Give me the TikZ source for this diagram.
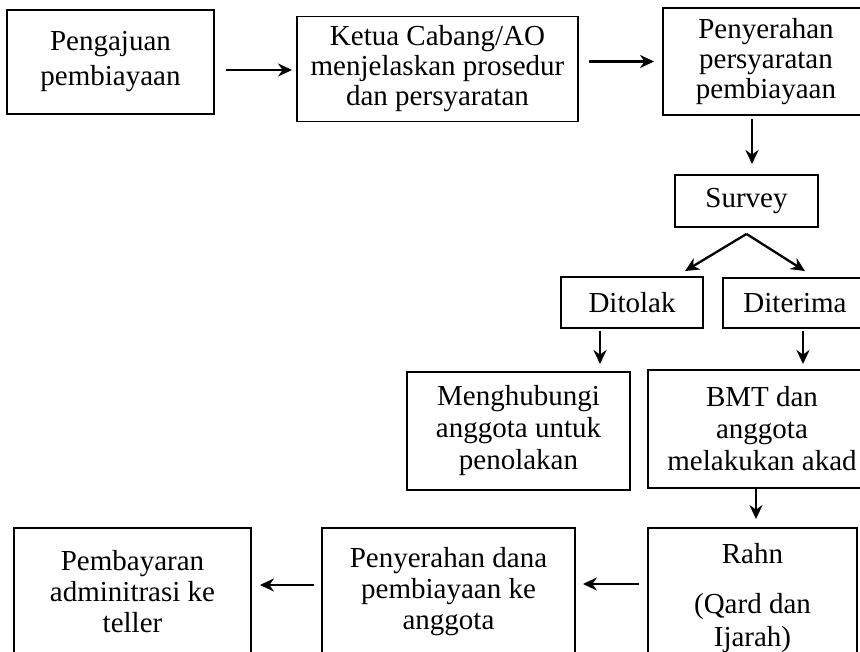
\documentclass[tikz,border=0pt]{standalone}
\usepackage{fontspec}
\setmainfont{Liberation Serif}
\usetikzlibrary{positioning,arrows.meta}

\begin{document}
\begin{tikzpicture}[x=1pt,y=-1pt,
  >={Stealth[length=14pt,width=13pt]},
  box/.style={draw,line width=1.9pt,align=center,inner sep=0pt,
    font=\fontsize{29}{32}\selectfont},
  arr/.style={->,line width=2.3pt}]
\useasboundingbox (0,0) rectangle (860,652);
\clip (0,0) rectangle (860,652);
% top row
\node[box,minimum width=207pt,minimum height=104pt,font=\fontsize{29}{35}\selectfont] (ajuan) at (110.5,62) {Pengajuan\\pembiayaan};
\node[box,minimum width=281pt,minimum height=105pt,font=\fontsize{29}{30}\selectfont] (ketua) at (437.5,69) {Ketua Cabang/AO\\menjelaskan prosedur\\dan persyaratan};
\node[box,minimum width=206pt,minimum height=107pt,font=\fontsize{29}{30}\selectfont] (syarat) at (766,61.5) {Penyerahan\\persyaratan\\pembiayaan};
% survey and decision
\node[box,minimum width=143pt,minimum height=52pt] (survey) at (746.5,201) {Survey};
\node[box,minimum width=142pt,minimum height=51pt] (tolak) at (632,302.5) {Ditolak};
\node[box,minimum width=144pt,minimum height=50pt] (terima) at (795,303) {Diterima};
\node[box,minimum width=223pt,minimum height=118pt] (hubungi) at (518.5,431) {Menghubungi\\anggota untuk\\penolakan};
\node[box,minimum width=228pt,minimum height=118pt] (akad) at (762,429) {BMT dan\\anggota\\melakukan akad};
% bottom row
\node[box,minimum width=209pt,minimum height=140pt,font=\fontsize{29}{33}\selectfont] (rahn) at (752.5,598) {Rahn\\[17pt](Qard dan\\Ijarah)};
\node[box,minimum width=253pt,minimum height=128pt,font=\fontsize{29}{31}\selectfont] (dana) at (448.5,592) {Penyerahan dana\\pembiayaan ke\\anggota};
\node[box,minimum width=237pt,minimum height=128pt,font=\fontsize{29}{31}\selectfont] (bayar) at (132.5,592) {Pembayaran\\adminitrasi ke\\teller};
% connectors
\draw[arr,shorten <=11pt,shorten >=4pt] ([yshift=-8pt]ajuan.east) -- ([yshift=-8pt]ajuan.east -| ketua.west);
\draw[arr,shorten <=10pt,shorten >=8pt] (ketua.east |- syarat) -- (syarat.west);
\draw[arr,shorten <=3pt,shorten >=10pt] ([xshift=5.5pt]survey.north |- syarat.south) -- ([xshift=5.5pt]survey.north);
\coordinate (fork) at ([yshift=-6pt]survey.south);
\draw[arr] (fork) -- ([xshift=53pt,yshift=5pt]tolak.north);
\draw[arr] (fork) -- ([xshift=10pt,yshift=6pt]terima.north);
\draw[arr,shorten <=2pt,shorten >=7pt] ([xshift=-32pt]tolak.south) -- ([xshift=-32pt]tolak.south |- hubungi.north);
\draw[arr,shorten <=2pt,shorten >=5pt] ([xshift=8pt]terima.south) -- ([xshift=8pt]terima.south |- akad.north);
\draw[arr,shorten >=8pt] ([xshift=-6pt]akad.south) -- ([xshift=-6pt]akad.south |- rahn.north);
\draw[arr,shorten <=8pt,shorten >=7pt] ([yshift=14pt]rahn.west) -- ([yshift=14pt]rahn.west -| dana.east);
\draw[arr,shorten <=7pt,shorten >=8pt] ([yshift=7pt]dana.west) -- ([yshift=7pt]dana.west -| bayar.east);
\end{tikzpicture}
\end{document}
